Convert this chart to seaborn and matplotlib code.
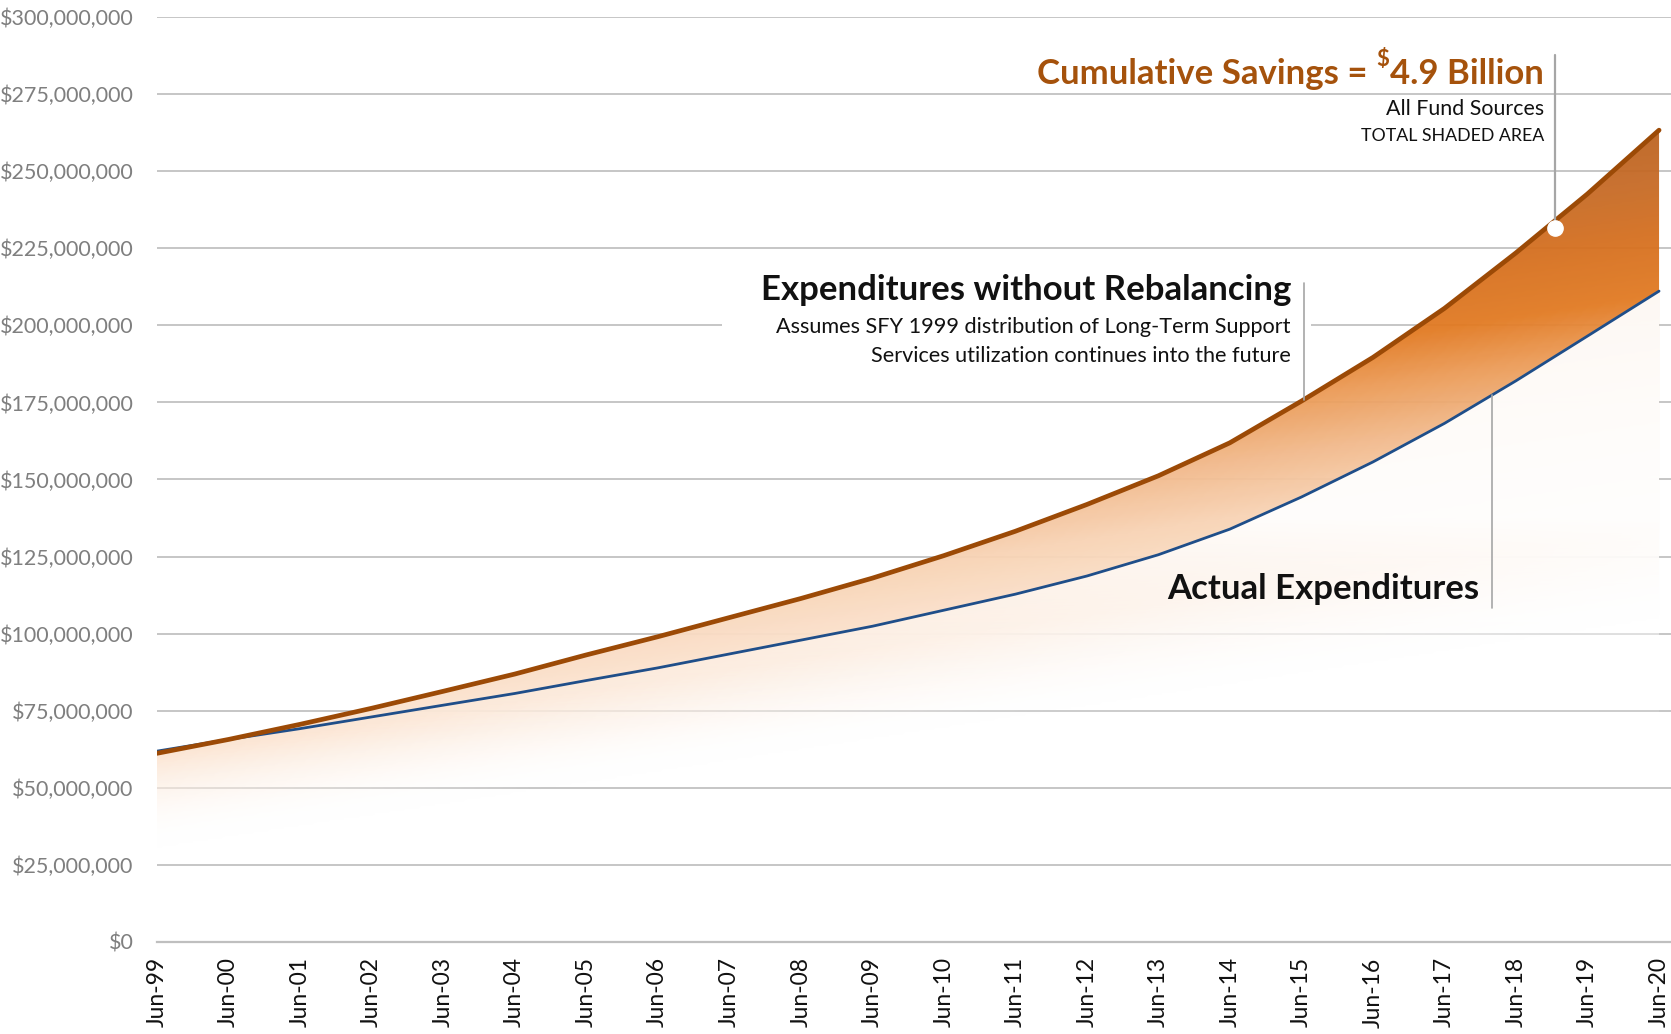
import matplotlib
matplotlib.use("Agg")
import matplotlib.pyplot as plt
import matplotlib.dates as mdates
from matplotlib.colors import LinearSegmentedColormap, Normalize
from matplotlib.patches import Rectangle
from matplotlib.ticker import FuncFormatter
import seaborn as sns
import numpy as np
import pandas as pd

# Fiscal year points (June of each year), values in $ millions
years = list(range(1999, 2021))
tick_labels = [f"Jun-{y % 100:02d}" for y in years]
without_rebalancing = [61.2, 65.7, 70.6, 75.8, 81.3, 86.9, 93.1, 99.0, 105.2, 111.4, 118.0,
                       125.3, 133.2, 141.9, 151.2, 161.9, 175.4, 189.6, 205.5, 223.5, 242.6, 263.3]
actual = [61.9, 65.7, 69.2, 73.0, 76.8, 80.6, 84.8, 88.9, 93.4, 97.9, 102.4,
          107.6, 112.8, 118.7, 125.6, 133.9, 144.3, 155.7, 168.2, 182.0, 196.5, 211.1]

ORANGE = "#9C4A06"
BLUE = "#1F4E89"
TITLE_ORANGE = "#A5520C"
GRID = "#C6C6C6"

W, H = 1671, 1034

df = pd.DataFrame({
    "date": pd.to_datetime([f"{y}-06-01" for y in years]),
    "without": np.array(without_rebalancing) * 1e6,
    "actual": np.array(actual) * 1e6,
})

sns.set_theme(style="white")
plt.rcParams["font.family"] = ["Lato", "DejaVu Sans"]

fig = plt.figure(figsize=(W / 100, H / 100), dpi=100)
ax = fig.add_axes([157 / W, 92 / H, (W - 157) / W, 925 / H])


def fig_xy(x, y):
    """figure pixel (from top-left) -> figure fraction"""
    return x / W, 1 - y / H


x0 = mdates.date2num(df["date"].iloc[0])
x1 = mdates.date2num(df["date"].iloc[-1]) + 61
ymax = 300e6

# polygons that the gradient images are clipped to
poly_top = ax.fill_between(df["date"], 0, df["without"], color="none", lw=0)
poly_act = ax.fill_between(df["date"], 0, df["actual"], color="none", lw=0)

# diagonal gradient for the savings / shaded area
nx, ny = 600, 400
gx, gy = np.meshgrid(np.linspace(0, 1, nx), np.linspace(0, 1, ny))
s = gy - 0.25 * gx
stops = [
    (0.00, (1, 1, 1, 0)),
    (0.18, (252 / 255, 230 / 255, 212 / 255, 0.95)),
    (0.33, (248 / 255, 211 / 255, 180 / 255, 0.95)),
    (0.44, (242 / 255, 185 / 255, 139 / 255, 0.95)),
    (0.55, (235 / 255, 154 / 255, 85 / 255, 0.95)),
    (0.64, (226 / 255, 122 / 255, 34 / 255, 0.95)),
    (0.76, (213 / 255, 112 / 255, 31 / 255, 0.95)),
    (0.87, (198 / 255, 106 / 255, 39 / 255, 0.95)),
    (1.00, (185 / 255, 98 / 255, 31 / 255, 0.95)),
]
cmap = LinearSegmentedColormap.from_list("savings", stops)
rgba = cmap(Normalize(0.10, 0.65, clip=True)(s))
im = ax.imshow(rgba, extent=[x0, x1, 0, ymax], origin="lower", aspect="auto",
               interpolation="bilinear", zorder=1)
im.set_clip_path(poly_top.get_paths()[0], poly_top.get_transform())

# white wash over the actual expenditures area (stronger higher up)
wash = np.zeros((ny, nx, 4))
wash[..., :3] = 1.0
wash[..., 3] = np.clip((gy - 0.22) / 0.25, 0, 0.95)
im2 = ax.imshow(wash, extent=[x0, x1, 0, ymax], origin="lower", aspect="auto",
                interpolation="bilinear", zorder=1.1)
im2.set_clip_path(poly_act.get_paths()[0], poly_act.get_transform())

# lines
sns.lineplot(data=df, x="date", y="actual", color=BLUE, lw=2.0, ax=ax, zorder=4)
sns.lineplot(data=df, x="date", y="without", color=ORANGE, lw=3.4, ax=ax, zorder=5,
             solid_capstyle="round")

ax.set_xlim(x0, x1)
ax.set_ylim(0, ymax)
ax.set_xlabel("")
ax.set_ylabel("")

ax.set_xticks(df["date"])
ax.set_xticklabels(tick_labels, rotation=90, fontsize=16.5, color="#111111")
ax.set_yticks(np.arange(0, 300e6 + 1, 25e6))
ax.yaxis.set_major_formatter(FuncFormatter(lambda v, p: f"${v:,.0f}"))
ax.tick_params(axis="y", length=0, pad=17, labelsize=15.5, labelcolor="#7F7F7F")
ax.tick_params(axis="x", length=6, width=1.4, color="#BFBFBF", pad=5, direction="out")
ax.grid(axis="y", color=GRID, lw=1.4)
ax.set_axisbelow(True)
for side in ["left", "right", "top"]:
    ax.spines[side].set_visible(False)
ax.spines["bottom"].set_color("#BFBFBF")
ax.spines["bottom"].set_linewidth(1.6)

# white box hiding the gridline behind the annotation block
bx0, by0 = fig_xy(722, 372)
bx1, by1 = fig_xy(1311, 262)
ax.add_patch(Rectangle((bx0, by0), bx1 - bx0, by1 - by0, transform=fig.transFigure,
                       facecolor="white", edgecolor="none", zorder=1.5, clip_on=False))

# leader lines
num_dates = mdates.date2num(df["date"])
d_sav = mdates.date2num(pd.Timestamp("2018-12-20"))
y_sav = np.interp(d_sav, num_dates, df["without"])
ax.plot([d_sav, d_sav], [287.7e6, y_sav], color="#A6A6A6", lw=1.6, zorder=6)
ax.plot([d_sav], [y_sav - 2.5e6], "o", ms=11, mfc="white", mec="white", zorder=7)

d_exp = mdates.date2num(pd.Timestamp("2015-06-15"))
y_exp = np.interp(d_exp, num_dates, df["without"])
ax.plot([d_exp, d_exp], [213.8e6, y_exp], color="#A6A6A6", lw=1.2, zorder=6)

d_act = mdates.date2num(pd.Timestamp("2018-02-01"))
y_act = np.interp(d_act, num_dates, df["actual"])
ax.plot([d_act, d_act], [y_act, 108.3e6], color="#A6A6A6", lw=1.2, zorder=6)

# annotation texts
r = fig.canvas.get_renderer()
t1 = fig.text(*fig_xy(1544, 84), "4.9 Billion", ha="right", va="baseline",
              fontsize=25, fontweight="bold", color=TITLE_ORANGE)
bb = t1.get_window_extent(r)
t2 = fig.text((bb.x0 - 1) / W, 1 - 66 / H, "$", ha="right", va="baseline",
              fontsize=16, fontweight="bold", color=TITLE_ORANGE)
bb2 = t2.get_window_extent(r)
fig.text((bb2.x0 - 9) / W, 1 - 84 / H, "Cumulative Savings =", ha="right", va="baseline",
         fontsize=25, fontweight="bold", color=TITLE_ORANGE)
fig.text(*fig_xy(1544, 109), "All Fund Sources", ha="right", va="center",
         fontsize=15.4, color="#111111")
fig.text(*fig_xy(1544, 136), "TOTAL SHADED AREA", ha="right", va="center",
         fontsize=12.8, color="#111111")

fig.text(*fig_xy(1291, 290), "Expenditures without Rebalancing", ha="right", va="center",
         fontsize=25, fontweight="bold", color="#111111")
fig.text(*fig_xy(1291, 327), "Assumes SFY 1999 distribution of Long-Term Support",
         ha="right", va="center", fontsize=15.6, color="#111111")
fig.text(*fig_xy(1291, 356), "Services utilization continues into the future",
         ha="right", va="center", fontsize=15.6, color="#111111")

fig.text(*fig_xy(1479, 589), "Actual Expenditures", ha="right", va="center",
         fontsize=25, fontweight="bold", color="#111111")

fig.savefig("out.png", dpi=100, facecolor="white")
